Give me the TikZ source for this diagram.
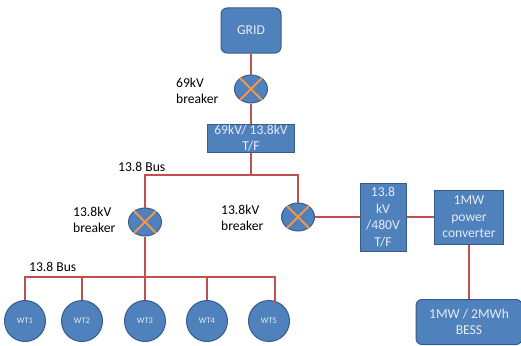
\documentclass[tikz,border=0pt]{standalone}
\usepackage{fontspec}
\setmainfont{Carlito}
\usepackage{tikz}
\usetikzlibrary{positioning,shapes.geometric}
\definecolor{boxblue}{HTML}{4F81BD}
\definecolor{boxedge}{HTML}{385D8A}
\definecolor{linered}{HTML}{C0504D}
\definecolor{crossorange}{HTML}{F79646}
\definecolor{boxtext}{HTML}{E4ECF6}

\begin{document}
\begin{tikzpicture}[
  x=1pt, y=-1pt,
  box/.style={draw=boxedge, line width=1pt, fill=boxblue, text=boxtext, align=center,
              font=\fontsize{13.6}{16.5}\selectfont, inner sep=0pt},
  roundbox/.style={box, rounded corners=6pt},
  breaker/.style={ellipse, draw=boxedge, line width=1pt, fill=boxblue,
                  minimum width=33pt, minimum height=28pt, inner sep=0pt},
  wt/.style={circle, draw=boxedge, line width=1pt, fill=boxblue, text=boxtext,
             minimum size=41pt, inner sep=0pt, font=\fontsize{8.5}{10}\selectfont},
  lbl/.style={align=left, font=\fontsize{13.6}{16.5}\selectfont, inner sep=0pt, anchor=west},
  wire/.style={draw=linered, line width=2.4pt},
  ]
  \useasboundingbox (0,0) rectangle (521,345);
  \fill[white] (0,0) rectangle (521,345);

  % bus corners and tee points
  \coordinate (busa) at (251,175);
  \coordinate (busar) at (298,175);
  \coordinate (busb) at (145,277);
  \coordinate (busbl) at (25,277);
  \coordinate (busbr) at (275,277);

  \node[roundbox, minimum width=60pt, minimum height=45pt] (grid) at (251,30.5) {GRID};
  \node[breaker] (brk1) at (251,89) {};
  \node[box, minimum width=87pt, minimum height=28pt] (tf1) at (251,138)
        {69kV/ 13.8kV\\T/F};
  \node[breaker] (brk2) at (145,222) {};
  \node[breaker] (brk3) at (298,217) {};
  \node[box, minimum width=46pt, minimum height=68pt] (tf2) at (383,217) {13.8\\kV\\/480V\\T/F};
  \node[box, minimum width=69pt, minimum height=54pt] (conv) at (469,217) {1MW\\power\\converter};
  \node[roundbox, minimum width=106pt, minimum height=45pt] (bess) at (469,322)
        {1MW / 2MWh\\BESS};
  \node[wt] (wt1) at (25,321) {WT1};
  \node[wt] (wt2) at (82,321) {WT2};
  \node[wt] (wt3) at (145,321) {WT3};
  \node[wt] (wt4) at (207,321) {WT4};
  \node[wt] (wt5) at (269,321) {WT5};

  \foreach \b in {brk1,brk2,brk3} {
    \draw[crossorange, line width=1.8pt] (\b.45) -- (\b.225);
    \draw[crossorange, line width=1.8pt] (\b.135) -- (\b.315);
  }

  \draw[wire] (grid) -- (brk1);
  \draw[wire] (brk1) -- (tf1);
  \draw[wire] (tf1.south) -- (busa);
  \draw[wire] (brk2.north) |- (busar) -- (brk3.north);
  \draw[wire] (brk2.south) -- (busb);
  \draw[wire] (wt1.north) -- (busbl) -- (busbr) -- (wt5.60 -| busbr);
  \draw[wire] (wt2.north) -- (wt2.north |- busb);
  \draw[wire] (wt3.north) -- (busb);
  \draw[wire] (wt4.north) -- (wt4.north |- busb);
  \draw[wire] (brk3) -- (tf2);
  \draw[wire] (tf2) -- (conv);
  \draw[wire] (conv.south) -- (bess.north);

  \node[lbl] (lblbrk1) at (176,91) {69kV\\breaker};
  \node[lbl] (lblbusa) at (118,167) {13.8 Bus};
  \node[lbl] (lblbrk2) at (73,220) {13.8kV\\breaker};
  \node[lbl] (lblbrk3) at (221,218) {13.8kV\\breaker};
  \node[lbl] (lblbusb) at (29,267) {13.8 Bus};
\end{tikzpicture}
\end{document}
